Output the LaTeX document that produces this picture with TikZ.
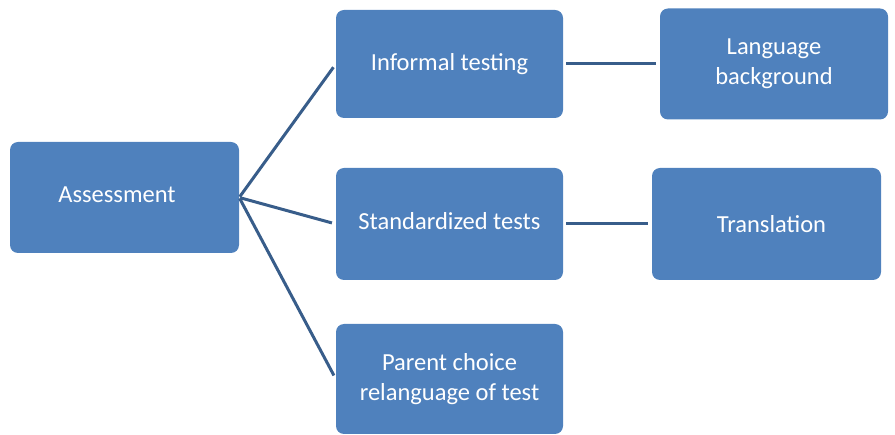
\documentclass[tikz,border=0pt]{standalone}
\usepackage{fontspec}
\setmainfont{Carlito}
\definecolor{boxblue}{HTML}{4F81BD}
\definecolor{linkblue}{HTML}{385D8A}
\tikzset{
  box/.style={rectangle, rounded corners=8pt, fill=boxblue, text=white, align=center,
    font=\fontsize{24.5}{30}\selectfont, inner sep=0pt},
  link/.style={draw=linkblue, line width=3pt, shorten <=2pt, shorten >=4pt}
}
\begin{document}
\begin{tikzpicture}[x=1pt,y=-1pt]
\useasboundingbox (0,0) rectangle (895,435);
\node[box, minimum width=229pt, minimum height=111pt] (assess) at (124.5,197.5) {\raisebox{6pt}{Assessment}\hspace*{15pt}};
\node[box, minimum width=227pt, minimum height=108pt] (informal) at (449.5,64) {Informal testing};
\node[box, minimum width=228pt, minimum height=111pt] (lang) at (774,64) {Language\\background};
\node[box, minimum width=227pt, minimum height=112pt] (std) at (449.5,224) {\raisebox{6pt}{Standardized tests}};
\node[box, minimum width=229pt, minimum height=112pt] (trans) at (766.5,224) {\hspace*{10pt}Translation};
\node[box, minimum width=227pt, minimum height=110pt] (parent) at (449.5,379) {Parent choice\\relanguage of test};
\draw[link, shorten <=1pt] (assess.east) -- (informal.west);
\draw[link, shorten <=1pt] (assess.east) -- (std.west);
\draw[link, shorten <=1pt] (assess.east) -- (parent.west);
\draw[link, shorten <=3pt] (informal.east) -- (lang.west);
\draw[link, shorten <=3pt] (std.east) -- (trans.west);
\end{tikzpicture}
\end{document}
